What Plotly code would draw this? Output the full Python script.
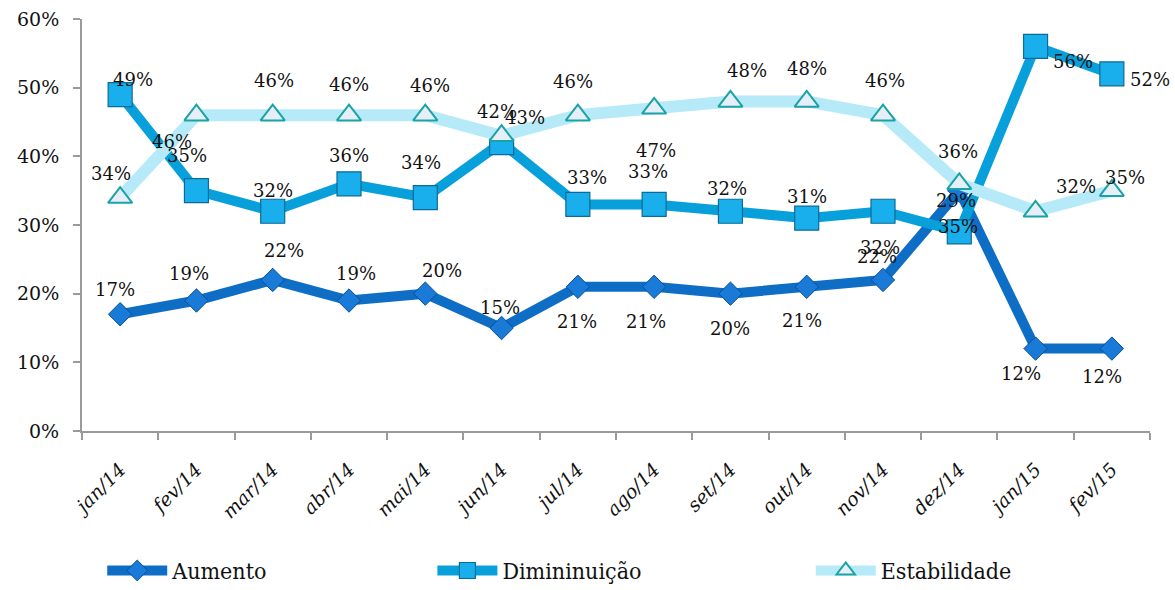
import plotly.graph_objects as go

# Monthly survey shares (%)
months = ["jan/14", "fev/14", "mar/14", "abr/14", "mai/14", "jun/14", "jul/14",
          "ago/14", "set/14", "out/14", "nov/14", "dez/14", "jan/15", "fev/15"]
aumento = [17, 19, 22, 19, 20, 15, 21, 21, 20, 21, 22, 35, 12, 12]
diminuicao = [49, 35, 32, 36, 34, 42, 33, 33, 32, 31, 32, 29, 56, 52]
estabilidade = [34, 46, 46, 46, 46, 43, 46, 47, 48, 48, 46, 36, 32, 35]

# Label offsets (px) from each point: (dx, dy), dy positive = upwards
off_aum = [(-5, 25), (-7, 27), (11, 29), (7, 27), (17, 23), (-2, 21), (-1, -35),
           (-8, -35), (0, -35), (-5, -34), (-6, 23), (-1, -36), (-15, -25), (-10, -28)]
off_dim = [(13, 15), (-9, 35), (0, 21), (0, 28), (-4, 35), (-5, 31), (9, 27),
           (-6, 33), (-3, 23), (0, 22), (-3, -36), (-3, 31), (37, -15), (38, -6)]
off_est = [(-9, 24), (-24, -26), (1, 35), (0, 31), (5, 30), (23, 18), (-5, 34),
           (2, -42), (17, 31), (0, 33), (2, 35), (-1, 32), (40, 25), (13, 13)]

FONT = "DejaVu Serif"

fig = go.Figure()

fig.add_trace(go.Scatter(
    x=months, y=aumento, name="Aumento", mode="lines+markers", legend="legend",
    line=dict(color="#0E6EC6", width=10),
    marker=dict(symbol="diamond", size=18, color="#1A7AD8",
                line=dict(color="#0A4F94", width=1)),
))
fig.add_trace(go.Scatter(
    x=months, y=diminuicao, name="Dimininuição", mode="lines+markers", legend="legend2",
    line=dict(color="#08A0DB", width=10),
    marker=dict(symbol="square", size=24, color="#19AFEC",
                line=dict(color="#0B6A96", width=1.2)),
))
fig.add_trace(go.Scatter(
    x=months, y=estabilidade, name="Estabilidade", mode="lines+markers", legend="legend3",
    line=dict(color="#B6EAF9", width=12),
    marker=dict(symbol="triangle-up", size=21, color="#E6EEF7",
                line=dict(color="#1AA3A6", width=2)),
))

annotations = []
for vals, offs in ((aumento, off_aum), (diminuicao, off_dim), (estabilidade, off_est)):
    for m, v, (dx, dy) in zip(months, vals, offs):
        annotations.append(dict(
            x=m, y=v, text=f"{v}%", showarrow=False,
            xshift=dx, yshift=dy, xanchor="center", yanchor="middle",
            font=dict(family=FONT, size=18, color="#111111"),
        ))


def legend_box(x):
    return dict(
        orientation="h", xref="container", yref="container",
        x=x, xanchor="left", y=0.033, yanchor="middle", itemwidth=60,
        font=dict(family="DejaVu Serif Condensed, DejaVu Serif", size=23, color="#111111"),
        bgcolor="rgba(0,0,0,0)",
    )


fig.update_layout(
    width=1175, height=590,
    margin=dict(l=82, r=25, t=19, b=159, autoexpand=False),
    paper_bgcolor="white", plot_bgcolor="white",
    annotations=annotations,
    showlegend=True,
    legend=legend_box(0.087),
    legend2=legend_box(0.368),
    legend3=legend_box(0.690),
)

fig.update_xaxes(
    type="category", range=[-0.5, 13.5], automargin=False,
    showline=True, linecolor="#9A9A9A", linewidth=2,
    ticks="outside", tickson="boundaries", ticklen=7, tickcolor="#9A9A9A", tickwidth=2,
    tickangle=-45, ticklabelstandoff=18, showgrid=False, zeroline=False,
    tickfont=dict(family="DejaVu Serif", size=19, color="#111111", style="italic"),
)
fig.update_yaxes(
    range=[0, 60], dtick=10, ticksuffix="%", automargin=False,
    showline=True, linecolor="#9A9A9A", linewidth=2,
    ticks="outside", ticklen=7, tickcolor="#9A9A9A", tickwidth=2,
    ticklabelstandoff=10, showgrid=False, zeroline=False,
    tickfont=dict(family=FONT, size=19, color="#111111"),
)

fig.write_html("out.html")
